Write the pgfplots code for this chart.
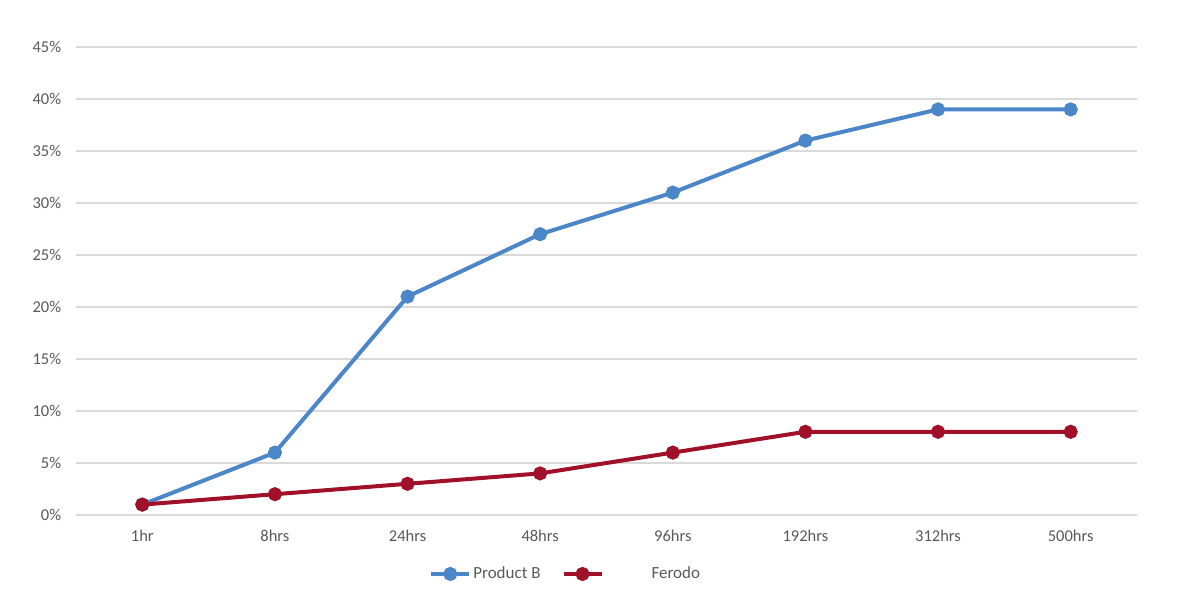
\documentclass[border=0pt]{standalone}
\usepackage{pgfplots}
\pgfplotsset{compat=1.18}
\usepackage{fontspec}
\setmainfont{Carlito}
\definecolor{pblue}{RGB}{74,134,200}
\definecolor{fred}{RGB}{160,16,40}
\definecolor{txt}{RGB}{89,89,89}
\definecolor{grd}{RGB}{217,217,217}
\begin{document}
\fontsize{17bp}{20bp}\selectfont
\begin{tikzpicture}
\useasboundingbox (-76bp,-95bp) rectangle (1124bp,515bp);
\begin{axis}[
  at={(0,0)}, anchor=south west,
  scale only axis, width=1061bp, height=468bp,
  xmin=-0.5, xmax=7.5, ymin=0, ymax=45,
  xtick={0,...,7},
  xticklabels={1hr,8hrs,24hrs,48hrs,96hrs,192hrs,312hrs,500hrs},
  ytick={0,5,...,45},
  yticklabel={\pgfmathprintnumber{\tick}\%},
  /pgf/number format/assume math mode=true,
  axis line style={draw=none},
  major tick length=0pt,
  ymajorgrids, grid style={grd, line width=1.2bp},
  tick label style={text=txt, font=\fontsize{16.5bp}{19bp}\selectfont},
  yticklabel style={xshift=-9bp},
  xticklabel style={yshift=-9bp},
  legend style={at={(rel axis cs:0.33,-0.126)}, anchor=west, draw=none, fill=none,
    font=\fontsize{17bp}{20bp}\selectfont, text=txt,
    /tikz/every even column/.append style={column sep=19bp}},
  legend columns=2,
  legend cell align=left,
  legend image code/.code={
    \draw[#1, mark=none] (0bp,0bp) -- (38bp,0bp);
    \draw[#1, only marks] plot coordinates {(19bp,0bp)};
  },
]
\addplot[pblue, line width=4bp, mark=*, mark size=5bp, mark options={solid, fill=pblue}]
  coordinates {(0,1) (1,6) (2,21) (3,27) (4,31) (5,36) (6,39) (7,39)};
\addlegendentry{Product B}
\addplot[fred, line width=4bp, mark=*, mark size=5bp, mark options={solid, fill=fred}]
  coordinates {(0,1) (1,2) (2,3) (3,4) (4,6) (5,8) (6,8) (7,8)};
\addlegendentry{\hspace{46bp}Ferodo}
\end{axis}
\end{tikzpicture}
\end{document}
